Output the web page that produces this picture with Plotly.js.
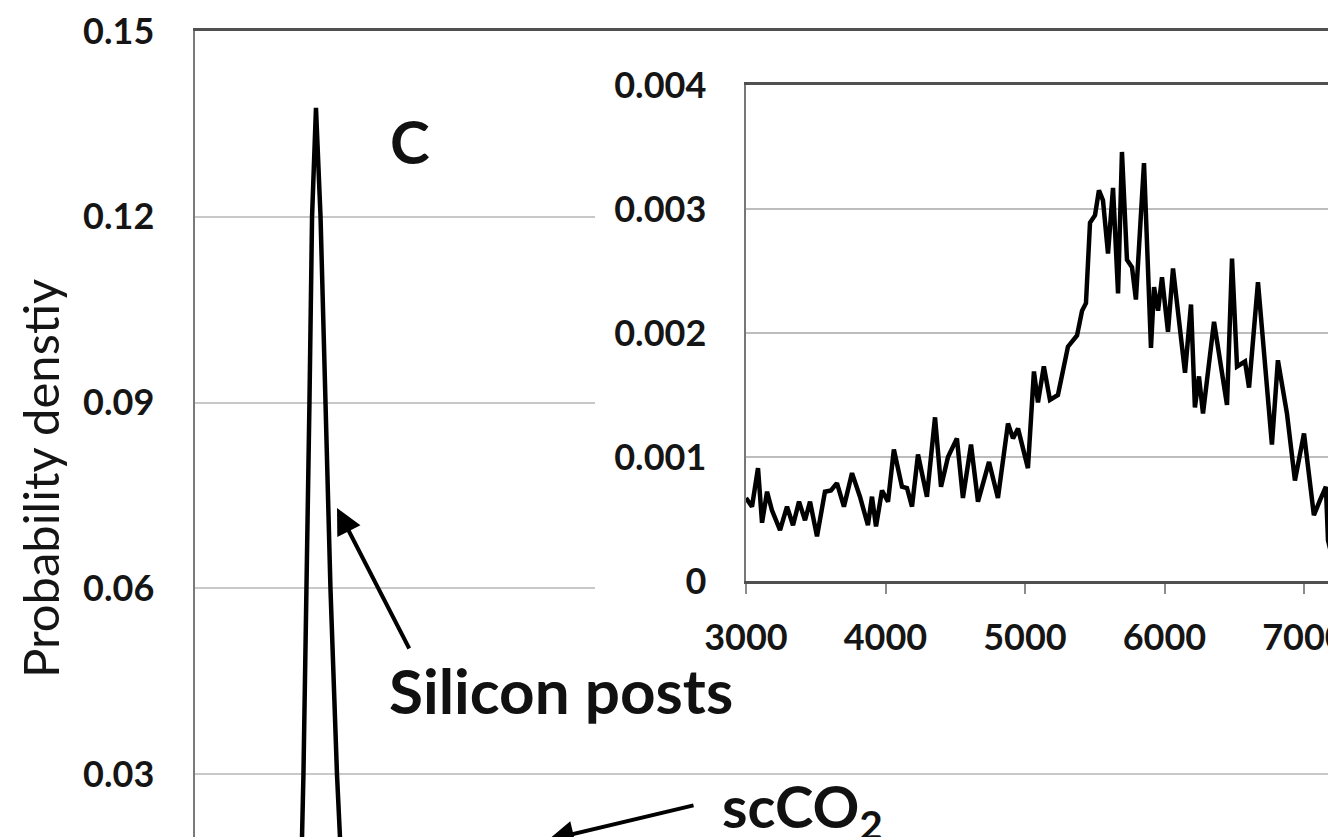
<!DOCTYPE html>
<html><head><meta charset="utf-8">
<script src="https://cdn.plot.ly/plotly-3.0.1.min.js"></script>
<style>
html,body{margin:0;padding:0;overflow:hidden;background:#fff;width:1328px;height:837px}
#wrap{width:1328px;height:837px;overflow:hidden;position:relative}
#chart{width:1600px;height:1000px;position:absolute;left:0;top:0}
</style>
</head><body><div id="wrap"><div id="chart"></div></div>
<script>
// Main panel: silicon posts density spike (x in arbitrary units, hidden axis)
const spikeX = [7.82, 8.05, 8.20, 8.31, 8.58, 8.77, 8.97, 9.27, 9.62, 9.96, 10.38, 10.88, 11.11, 11.49, 12.64];
const spikeY = [0.000, 0.010, 0.0198, 0.030, 0.060, 0.090, 0.120, 0.1376, 0.120, 0.090, 0.060, 0.030, 0.0198, 0.010, 0.000];

// Inset: scCO2 density
const insetX = [3000, 3043, 3086, 3115, 3151, 3186, 3244, 3294, 3337, 3380, 3423, 3459, 3509, 3566, 3609, 3652, 3702, 3760, 3817, 3874, 3903, 3932, 3975, 4018, 4060,
  4118, 4154, 4190, 4233, 4297, 4355, 4398, 4448, 4512, 4555, 4613, 4663, 4742, 4806, 4878, 4914, 4950, 5021, 5064, 5093, 5135,
  5179, 5236, 5308, 5373, 5409, 5437, 5466, 5502, 5530, 5559, 5595, 5631, 5667, 5695, 5731, 5767, 5795, 5853, 5903, 5925, 5954, 5982, 6025, 6061, 6147, 6190, 6218,
  6247, 6276, 6355, 6448, 6484, 6520, 6577, 6606, 6670, 6770, 6813, 6878, 6935, 7000, 7071, 7114, 7157, 7172, 7200];
const insetY = [0.00067, 0.00060, 0.00091, 0.00047, 0.00072, 0.00057, 0.00041, 0.00060, 0.00045, 0.00064, 0.00049, 0.00064, 0.00036, 0.00072, 0.00073, 0.00079, 0.00060, 0.00087, 0.00068, 0.00045, 0.00068, 0.00044, 0.00073, 0.00064, 0.00106,
  0.00076, 0.00075, 0.00060, 0.00102, 0.00068, 0.00132, 0.00076, 0.00100, 0.00115, 0.00067, 0.00110, 0.00064, 0.00096, 0.00067, 0.00127, 0.00115, 0.00123, 0.00091, 0.00169, 0.00144, 0.00173,
  0.00146, 0.00150, 0.00189, 0.00198, 0.00218, 0.00224, 0.00289, 0.00295, 0.00315, 0.00307, 0.00264, 0.00317, 0.00232, 0.00346, 0.00259, 0.00253, 0.00227, 0.00337, 0.00188, 0.00237, 0.00218, 0.00245, 0.00201, 0.00252, 0.00168, 0.00223, 0.00140,
  0.00165, 0.00135, 0.00209, 0.00142, 0.00260, 0.00173, 0.00177, 0.00156, 0.00241, 0.00110, 0.00178, 0.00135, 0.00081, 0.00119, 0.00053, 0.00065, 0.00076, 0.00033, 0.00020];

const mainYTicks = [0.03, 0.06, 0.09, 0.12, 0.15];
const mainYLabels = ['0.03', '0.06', '0.09', '0.12', '0.15'];
const insetXTicks = [3000, 4000, 5000, 6000, 7000];
const insetYTicks = [0, 0.001, 0.002, 0.003, 0.004];
const insetYLabels = ['0', '0.001', '0.002', '0.003', '0.004'];

const W = 1600, H = 1000, L = 195, T = 31, R = 100, B = 40;
const PW = W - L - R, PH = H - T - B;
const px = x => (x - L) / PW;
const py = y => (H - B - y) / PH;

const FONT = 'Lato, "Open Sans", sans-serif';
const tickFont = {family: FONT, size: 36, weight: 700, color: '#151515'};

const traces = [
  {x: spikeX, y: spikeY, xaxis: 'x', yaxis: 'y', mode: 'lines', line: {color: '#000', width: 4.5}, hoverinfo: 'skip'},
  {x: [], y: [], xaxis: 'x2', yaxis: 'y2', mode: 'lines', hoverinfo: 'skip'},
  {x: insetX, y: insetY, xaxis: 'x3', yaxis: 'y3', mode: 'lines', line: {color: '#000', width: 4.5}, hoverinfo: 'skip'}
];

const hidden = {showgrid: false, zeroline: false, showticklabels: false, showline: false, ticks: '', fixedrange: true};

const layout = {
  width: W, height: H,
  margin: {l: L, r: R, t: T, b: B, pad: 0},
  paper_bgcolor: '#fff', plot_bgcolor: '#fff',
  showlegend: false,
  font: {family: FONT, color: '#151515'},
  xaxis: {domain: [0, 1], range: [0, 100], side: 'top', showline: true, linecolor: '#505050', linewidth: 3,
          showgrid: false, zeroline: false, showticklabels: false, ticks: ''},
  yaxis: {domain: [0, 1], range: [0, 0.15], tickvals: mainYTicks, ticktext: mainYLabels,
          showline: true, linecolor: '#7a7a7a', linewidth: 2.5, showgrid: true, gridcolor: '#c8c8c8', gridwidth: 2,
          zeroline: false, ticks: '', ticklabelstandoff: 31, tickfont: tickFont},
  xaxis2: Object.assign({domain: [px(595), 1], range: [0, 1], anchor: 'y2'}, hidden),
  yaxis2: Object.assign({domain: [py(700), py(55)], range: [0, 1], anchor: 'x2'}, hidden),
  xaxis3: {domain: [px(746), px(746 + 5 * 139.5)], range: [3000, 8000], anchor: 'y3', tickvals: insetXTicks,
           ticks: 'outside', ticklen: 10, tickwidth: 2, tickcolor: '#8c8c8c',
           showline: true, mirror: true, linecolor: '#505050', linewidth: 3, showgrid: false, zeroline: false,
           ticklabelstandoff: 13, tickfont: tickFont},
  yaxis3: {domain: [py(581), py(85)], range: [0, 0.004], anchor: 'x3', tickvals: insetYTicks, ticktext: insetYLabels,
           showline: true, mirror: true, linecolor: '#777', linewidth: 2.5, showgrid: true, gridcolor: '#bdbdbd', gridwidth: 2,
           zeroline: false, ticks: '', ticklabelstandoff: 30, tickfont: tickFont},
  annotations: [
    {xref: 'paper', yref: 'paper', x: px(40), y: py(479), text: 'Probability denstiy', textangle: -90,
     showarrow: false, xanchor: 'center', yanchor: 'middle', font: {family: FONT, size: 49, color: '#151515'}},
    {xref: 'paper', yref: 'paper', x: px(410), y: py(141), text: 'C', showarrow: false,
     xanchor: 'center', yanchor: 'middle', font: {family: FONT, size: 60, weight: 700, color: '#111'}},
    {xref: 'paper', yref: 'paper', x: px(561), y: py(690), text: 'Silicon posts', showarrow: false,
     xanchor: 'center', yanchor: 'middle', font: {family: FONT, size: 62, weight: 700, color: '#111'}},
    {xref: 'paper', yref: 'paper', x: px(337), y: py(508), text: '', showarrow: true, ax: 73, ay: 142,
     arrowhead: 2, arrowsize: 1.3, arrowwidth: 4, arrowcolor: '#000'},
    {xref: 'paper', yref: 'paper', x: px(720), y: py(810), text: 'scCO<sub>2</sub>', showarrow: false,
     xanchor: 'left', yanchor: 'middle', font: {family: FONT, size: 58, weight: 700, color: '#111'}},
    {xref: 'paper', yref: 'paper', x: px(548), y: py(840), text: '', showarrow: true, ax: 147, ay: -35,
     arrowhead: 2, arrowsize: 1.3, arrowwidth: 4, arrowcolor: '#000'}
  ]
};

Plotly.newPlot('chart', traces, layout, {staticPlot: true, displayModeBar: false});
</script>
</body></html>
